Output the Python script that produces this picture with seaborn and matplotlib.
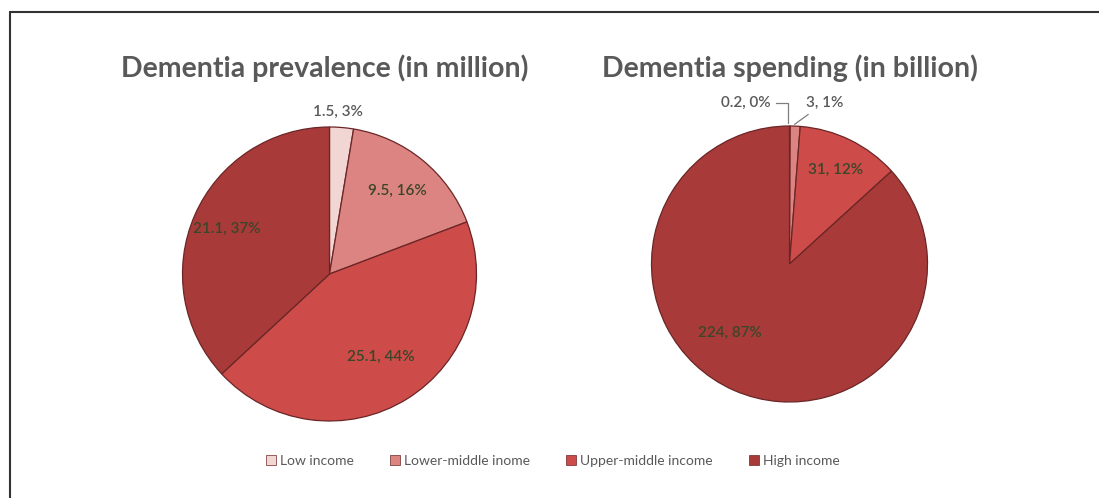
import numpy as np
import matplotlib
matplotlib.use("Agg")
import matplotlib.pyplot as plt
from matplotlib.lines import Line2D
from matplotlib.patches import Patch
import seaborn as sns

# Income groups and values
income_groups = ["Low income", "Lower-middle inome", "Upper-middle income", "High income"]
prevalence_million = [1.5, 9.5, 25.1, 21.1]
prevalence_pct = [3, 16, 44, 37]
spending_billion = [0.2, 3, 31, 224]
spending_pct = [0, 1, 12, 87]

titles = ["Dementia prevalence (in million)", "Dementia spending (in billion)"]

sns.set_theme(style="white")
plt.rcParams["font.family"] = ["Lato", "DejaVu Sans"]

slice_colors = ["#F2D6D4", "#DC8482", "#CD4B49", "#A93A3A"]
edge_color = "#6a2626"
inner_text = "#3b4629"
outer_text = "#595959"

W, H = 1099, 498
fig = plt.figure(figsize=(W / 100, H / 100), dpi=100)
fig.patch.set_facecolor("white")

K = 1.3  # axis half-extent in pie radii


def pie_axes(cx, cy, r):
    side = 2 * r * K
    ax = fig.add_axes([(cx - side / 2) / W, (H - cy - side / 2) / H, side / W, side / H])
    return ax


def fmt(v):
    return f"{v:g}"


def draw_pie(ax, values, pcts, inside_place, outside):
    """inside_place maps slice index -> (radial distance, angle shift in degrees)."""
    wedges, _ = ax.pie(values, colors=slice_colors, startangle=90, counterclock=False,
                       radius=1.0, wedgeprops=dict(edgecolor=edge_color, linewidth=0.9))
    ax.set_xlim(-K, K)
    ax.set_ylim(-K, K)
    ax.set_aspect("equal")
    ax.axis("off")
    total = float(sum(values))
    cum = 0.0
    for i, (v, p) in enumerate(zip(values, pcts)):
        mid = (cum + v / 2) / total
        cum += v
        if i in outside:
            continue
        d, shift = inside_place[i]
        ang = np.deg2rad(90 - 360 * mid + shift)
        ax.text(d * np.cos(ang), d * np.sin(ang), f"{fmt(v)}, {p}%", ha="center",
                va="center", fontsize=11, fontweight="semibold", color=inner_text)
    return wedges


# Left pie: prevalence
axL = pie_axes(329.5, 274, 147)
draw_pie(axL, prevalence_million, prevalence_pct,
         {1: (0.73, 0), 2: (0.66, 0), 3: (0.76, 0)}, outside={0})
axL.text(0.06, 1.1, f"{fmt(prevalence_million[0])}, {prevalence_pct[0]}%", ha="center",
         va="center", fontsize=11, fontweight="semibold", color=outer_text)

# Right pie: spending
axR = pie_axes(789.5, 264, 138)
draw_pie(axR, spending_billion, spending_pct, {2: (0.76, 0), 3: (0.66, -17)},
         outside={0, 1})
axR.annotate(f"{fmt(spending_billion[0])}, {spending_pct[0]}%", xy=(-0.01, 1.0),
             xytext=(-0.14, 1.17), ha="right", va="center", fontsize=11,
             fontweight="semibold", color=outer_text,
             arrowprops=dict(arrowstyle="-", color="#7f7f7f", lw=0.9,
                             connectionstyle="angle,angleA=0,angleB=90,rad=0"))
axR.annotate(f"{fmt(spending_billion[1])}, {spending_pct[1]}%", xy=(0.02, 1.0),
             xytext=(0.12, 1.17), ha="left", va="center", fontsize=11,
             fontweight="semibold", color=outer_text,
             arrowprops=dict(arrowstyle="-", color="#7f7f7f", lw=0.9))

# Titles
fig.text(325 / W, 1 - 68 / H, titles[0], ha="center", va="center", fontsize=20.5,
         fontweight="bold", color="#595959")
fig.text(790 / W, 1 - 68 / H, titles[1], ha="center", va="center", fontsize=20.5,
         fontweight="bold", color="#595959")

# Legend
handles = [Patch(facecolor=c, edgecolor=edge_color, linewidth=0.5) for c in slice_colors]
fig.legend(handles, income_groups, loc="center", bbox_to_anchor=(553 / W, 1 - 461 / H),
           ncol=4, frameon=False, fontsize=10, labelcolor="#595959", handlelength=0.7,
           handleheight=0.7, handletextpad=0.3, columnspacing=2.6)

# Frame lines along the top and left edges
fig.add_artist(Line2D([10 / W, 1.0], [1 - 12 / H, 1 - 12 / H], color="#333333", lw=1.5,
                      transform=fig.transFigure))
fig.add_artist(Line2D([10 / W, 10 / W], [0.0, 1 - 12 / H], color="#333333", lw=1.5,
                      transform=fig.transFigure))

fig.savefig("out.png", dpi=100, facecolor="white")
